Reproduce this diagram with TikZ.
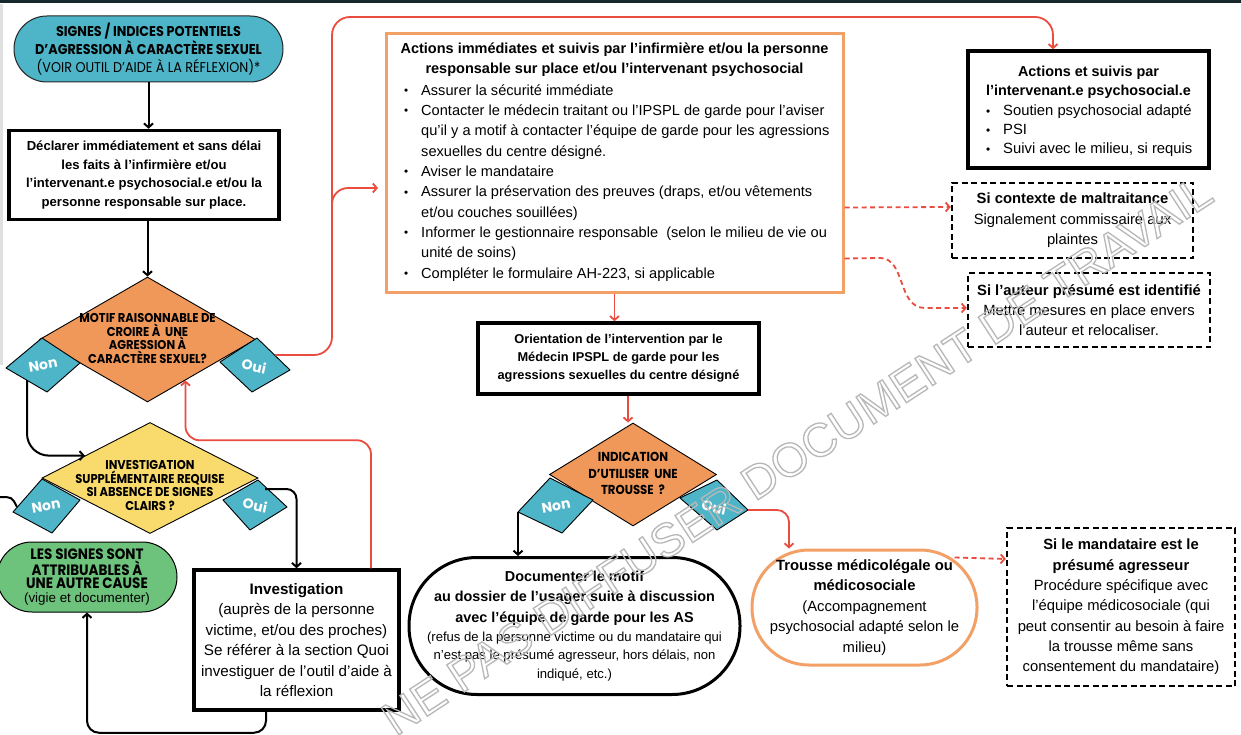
\documentclass[tikz,border=0pt]{standalone}
\usepackage{fontspec}
\setmainfont{Liberation Sans}
\newfontfamily\popc{Poppins}[FakeStretch=0.9]
\newfontfamily\pop{Poppins}
\usetikzlibrary{arrows.meta,shapes.geometric,calc}
\definecolor{tealc}{HTML}{4EB4C7}
\definecolor{orgfill}{HTML}{F0985A}
\definecolor{orgline}{HTML}{F2A066}
\definecolor{yel}{HTML}{F9DB6D}
\definecolor{grn}{HTML}{6DC27C}
\definecolor{redl}{HTML}{EA4C3F}
\definecolor{topbar}{HTML}{17282D}
\newcommand\mybul{\makebox[17pt][l]{\raisebox{0.5pt}{\scalebox{0.8}{•}}}}
\newcommand\myind{\hspace*{17pt}}
\tikzset{
 base/.style={inner sep=0pt, align=center, font=\fontsize{14.8}{20.4}\selectfont},
 bbox/.style={base, draw=black, line width=3.5pt, fill=white},
 dbox/.style={base, draw=black, line width=2.4pt, dash pattern=on 6pt off 3.5pt, fill=white},
 dia/.style={diamond, draw=black, line width=0.9pt, inner sep=0pt},
 dtxt/.style={inner sep=0pt, align=center, font=\popc\bfseries\fontsize{12.8}{13.7}\selectfont},
 tab/.style={fill=tealc, draw=black, line width=0.9pt, line join=round},
 tabtxt/.style={inner sep=0pt, text=white, font=\pop\bfseries\fontsize{14}{14}\selectfont},
 blk/.style={draw=black, line width=2pt, -{Straight Barb[length=4pt,width=9pt]}},
 rline/.style={draw=redl, line width=1.8pt, -{Straight Barb[length=4pt,width=9pt]}},
 rdash/.style={rline, dash pattern=on 5pt off 3.5pt},
}
\begin{document}
\begin{tikzpicture}[x=1pt,y=-1pt]
\useasboundingbox (0,0) rectangle (1241,735);
\clip (0,0) rectangle (1241,735);
\fill[white] (0,0) rectangle (1241,735);
\fill[topbar] (0,0) rectangle (1241,3);
\fill[black!12] (0,4) rectangle (3,365);

% ---- left column
\node[draw=black!85, line width=1pt, fill=tealc, rounded corners=32.9pt, minimum width=269pt, minimum height=66pt, inner sep=0pt, align=center, font=\popc\fontsize{14.2}{18}\selectfont] (sig) at (148.5,49)
 {\textbf{SIGNES / INDICES POTENTIELS}\\\textbf{D’AGRESSION À CARACTÈRE SEXUEL}\\(VOIR OUTIL D’AIDE À LA RÉFLEXION)*};

\node[bbox, minimum width=270pt, minimum height=89pt, font=\bfseries\fontsize{13.1}{18.5}\selectfont] (decl) at (144,175)
 {Déclarer immédiatement et sans délai\\les faits à l’infirmière et/ou\\l’intervenant.e psychosocial.e et/ou la\\personne responsable sur place.};

\node[dia, fill=orgfill, minimum width=216pt, minimum height=125pt] (d1) at (147.5,339.5) {};
\node[dtxt] (d1t) at (147.5,338.5) {MOTIF RAISONNABLE DE\\CROIRE À\ \ UNE\\AGRESSION À\\CARACTÈRE SEXUEL?};
\filldraw[tab] (6,368) -- (42,338) -- (80,363) -- (47,392) -- cycle;
\node[tabtxt, rotate=10] (n1) at (43,365) {Non};
\filldraw[tab] (220,362) -- (257,338) -- (290,370) -- (252,392) -- cycle;
\node[tabtxt, rotate=-12] (o1) at (254,366) {Oui};
\coordinate (n1a) at (27,380);
\coordinate (o1a) at (275,355);

\node[dia, fill=yel, minimum width=216pt, minimum height=111pt] (d2) at (150,478) {};
\node[dtxt] (d2t) at (150,485.5) {INVESTIGATION\\SUPPLÉMENTAIRE REQUISE\\SI ABSENCE DE SIGNES\\CLAIRS ?};
\filldraw[tab] (13,512) -- (42,479) -- (80,500) -- (52,533) -- cycle;
\node[tabtxt, rotate=10] (n2) at (46,506) {Non};
\filldraw[tab] (223,500) -- (258,480) -- (287,507) -- (250,530) -- cycle;
\node[tabtxt, rotate=-12] (o2) at (255,505) {Oui};
\coordinate (n2a) at (17,507);
\coordinate (o2a) at (265,489);

\node[draw=black, line width=1pt, fill=grn, rounded corners=34.9pt, minimum width=180pt, minimum height=70pt, inner sep=0pt, align=center, font=\popc\bfseries\fontsize{15}{13.5}\selectfont] (grn) at (87,577)
 {LES SIGNES SONT\\ATTRIBUABLES À\\UNE AUTRE CAUSE\\{\mdseries\rmfamily\fontsize{13.4}{13.5}\selectfont (vigie et documenter)}};

\node[bbox, minimum width=205pt, minimum height=140pt, font=\fontsize{15.2}{20.4}\selectfont] (inv) at (296.5,640)
 {\textbf{Investigation}\\(auprès de la personne\\victime, et/ou des proches)\\Se référer à la section Quoi\\investiguer de l’outil d’aide à\\la réflexion};

% ---- centre
\node[draw=orgline, line width=3pt, fill=white, minimum width=457pt, minimum height=259pt, inner sep=0pt] (act) at (614.5,163) {};
\node[inner sep=0pt, align=center, font=\bfseries\fontsize{14.5}{20.3}\selectfont] (acth) at (614.5,60)
 {Actions immédiates et suivis par l’infirmière et/ou la personne\\responsable sur place et/ou l’intervenant psychosocial};
\node[anchor=base west, inner sep=0pt, align=left, font=\fontsize{14.6}{20.33}\selectfont] (actl) at (404,278)
 {\mybul Assurer la sécurité immédiate\\
  \mybul Contacter le médecin traitant ou l'IPSPL de garde pour l'aviser\\
  \myind qu'il y a motif à contacter l'équipe de garde pour les agressions\\
  \myind sexuelles du centre désigné.\\
  \mybul Aviser le mandataire\\
  \mybul Assurer la préservation des preuves (draps, et/ou vêtements\\
  \myind et/ou couches souillées)\\
  \mybul Informer le gestionnaire responsable\ \ (selon le milieu de vie ou\\
  \myind unité de soins)\\
  \mybul Compléter le formulaire AH-223, si applicable};

\node[bbox, minimum width=281pt, minimum height=71pt, font=\bfseries\fontsize{12.8}{18}\selectfont] (orient) at (618.5,358.5)
 {Orientation de l’intervention par le\\Médecin IPSPL de garde pour les\\agressions sexuelles du centre désigné};

\node[dia, fill=orgfill, minimum width=167pt, minimum height=103pt] (d3) at (633,474.5) {};
\node[dtxt, font=\popc\bfseries\fontsize{13}{16.5}\selectfont] (d3t) at (633,473.5) {INDICATION\\D’UTILISER\ \ UNE\\TROUSSE\ \ ?};
\filldraw[tab] (518,512) -- (550,478) -- (593,500) -- (562,533) -- cycle;
\node[tabtxt, rotate=10] (n3) at (556,506) {Non};
\filldraw[tab] (680,498) -- (717,480) -- (748,510) -- (717,530) -- cycle;
\node[tabtxt, rotate=-12] (o3) at (714,507) {Oui};
\coordinate (n3a) at (518,512);
\coordinate (o3a) at (748,510);

\node[base, draw=black, line width=3pt, fill=white, rounded corners=68pt, minimum width=331pt, minimum height=137pt, font=\fontsize{13.1}{18.5}\selectfont] (doc) at (574.5,626)
 {{\bfseries\fontsize{14.4}{18.5}\selectfont Documenter le motif}\\[2pt]{\bfseries\fontsize{14.4}{18.5}\selectfont au dossier de l’usager suite à discussion}\\[2pt]{\bfseries\fontsize{14.4}{18.5}\selectfont avec l’équipe de garde pour les AS}\\[0.5pt](refus de la personne victime ou du mandataire qui\\n’est pas le présumé agresseur, hors délais, non\\indiqué, etc.)};

\node[base, draw=orgline, line width=3pt, fill=white, rounded corners=57pt, minimum width=225pt, minimum height=115pt, font=\fontsize{14.8}{20.5}\selectfont] (tr) at (864.5,607.5)
 {\textbf{Trousse médicolégale ou}\\\textbf{médicosociale}\\(Accompagnement\\psychosocial adapté selon le\\milieu)};

% ---- right column
\node[bbox, minimum width=241pt, minimum height=117pt] (rtop) at (1088.5,109.5) {};
\node[inner sep=0pt, align=center, font=\bfseries\fontsize{14.4}{19}\selectfont] (rtoph) at (1088.5,82.5)
 {Actions et suivis par\\l’intervenant.e psychosocial.e};
\node[anchor=base west, inner sep=0pt, align=left, font=\fontsize{14.8}{19}\selectfont] (rtopl) at (986,154)
 {\mybul Soutien psychosocial adapté\\\mybul PSI\\\mybul Suivi avec le milieu, si requis};

\node[dbox, minimum width=241pt, minimum height=75pt] (malt) at (1072.5,220.5)
 {\textbf{Si contexte de maltraitance}\\Signalement commissaire aux\\plaintes};

\node[dbox, minimum width=242pt, minimum height=74pt, font=\fontsize{14.8}{20}\selectfont] (aut) at (1089,310)
 {\textbf{Si l’auteur présumé est identifié}\\Mettre mesures en place envers\\l’auteur et relocaliser.};

\node[dbox, minimum width=228pt, minimum height=158pt, font=\fontsize{14.8}{20.3}\selectfont] (mand) at (1121,607)
 {\textbf{Si le mandataire est le}\\\textbf{présumé agresseur}\\Procédure spécifique avec\\l’équipe médicosociale (qui\\peut consentir au besoin à faire\\la trousse même sans\\consentement du mandataire)};

\coordinate (br) at (378,188);

% ---- connectors
\draw[blk] (sig.south) -- (sig.south |- decl.north);
\draw[blk] (d1.north |- decl.south) -- (d1.north);
\draw[blk, rounded corners=22pt] (n1a) |- ($(d2.west)!0.4!(d2.north)$);
\draw[blk] (n2a) .. controls (12,497) .. (0,497) -- (-20,497) |- (grn.west);
\draw[blk, rounded corners=10pt] (o2a) -| (inv.north);
\draw[blk, rounded corners=12pt] ([xshift=-30.5pt]inv.south) -- ++(0,21) -| (grn.south);
\draw[rline, rounded corners=14pt] ([xshift=74.5pt]inv.north) -- ++(0,-128) -| ($(d1.south)!0.35!(d1.east)$);
\draw[rline, rounded corners=18pt] (o1a) -| (332,17) -| ([xshift=-35.5pt]rtop.north);
\draw[rline, rounded corners=16pt] (332,215) |- (br);
\draw[rline] (act.south) -- (act.south |- orient.north);
\draw[rline] ([xshift=9.5pt]orient.south) -- ([xshift=-5pt]d3.north);
\draw[blk] (n3a) -- (n3a |- doc.north);
\draw[rline, rounded corners=12pt] (o3a) -| ([xshift=-75.5pt]tr.north);
\draw[rdash] ([yshift=-44.5pt]act.east) -- ([yshift=13.5pt]malt.west);
\draw[rdash] ([yshift=-95.5pt]act.east) -- (880,258) .. controls (906,258) and (897,308) .. (925,308) -- ([yshift=2pt]aut.west);
\draw[rdash] ([xshift=-24pt,yshift=-9pt]tr.north east) -- ([yshift=48pt]mand.west);

% ---- watermark
\node[rotate=33.2, text=black!28, inner sep=0pt] (wm) at (797,455)
 {\resizebox{980pt}{!}{\special{pdf:literal direct q 1 Tr 0.28 w}NE PAS DIFFUSER DOCUMENT DE TRAVAIL\special{pdf:literal direct Q}}};
\end{tikzpicture}
\end{document}
